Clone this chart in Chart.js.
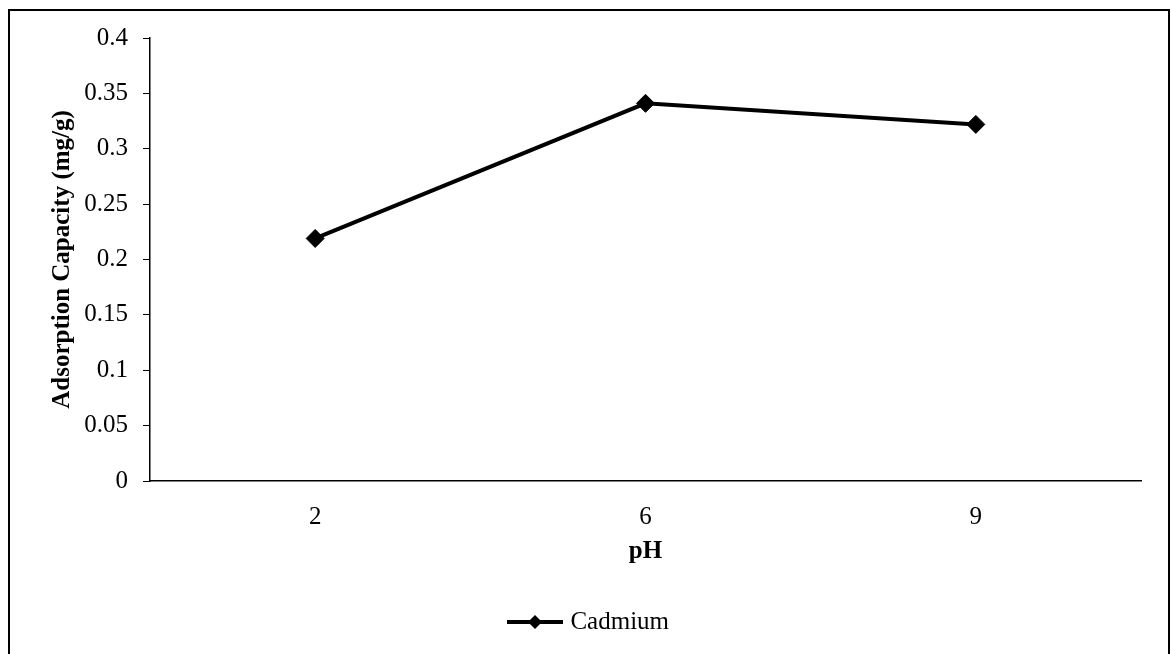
<!DOCTYPE html>
<html>
<head>
<meta charset="utf-8">
<script src="https://cdn.jsdelivr.net/npm/chart.js@4/dist/chart.umd.min.js"></script>
<style>
    html, body { margin: 0; padding: 0; background: #fff; }
    #wrap { width: 1171px; height: 654px; }
</style>
</head>
<body>
<div id="wrap"><canvas id="lineChart" width="1171" height="654"></canvas></div>
<script>
const phLabels = ["2", "6", "9"];
const cadmium = [0.219, 0.341, 0.322];
const seriesName = "Cadmium";
const yTitle = "Adsorption Capacity (mg/g)";
const xTitle = "pH";

const FONT = "'Liberation Serif', 'Times New Roman', serif";

// legend icon: line with a diamond in the middle
function legendIcon() {
    const c = document.createElement("canvas");
    c.width = 56;
    c.height = 18;
    const g = c.getContext("2d");
    g.strokeStyle = "#000";
    g.lineWidth = 4;
    g.beginPath();
    g.moveTo(0, 9);
    g.lineTo(56, 9);
    g.stroke();
    g.fillStyle = "#000";
    g.beginPath();
    g.moveTo(28, 2);
    g.lineTo(35, 9);
    g.lineTo(28, 16);
    g.lineTo(21, 9);
    g.closePath();
    g.fill();
    return c;
}

// outer frame around the whole figure
const framePlugin = {
    id: "frame",
    afterDraw(chart) {
        const ctx = chart.ctx;
        ctx.save();
        ctx.strokeStyle = "#000";
        ctx.lineWidth = 2;
        ctx.strokeRect(9, 10, 1160, 660);
        ctx.restore();
    }
};

const ctx = document.getElementById("lineChart");

new Chart(ctx, {
    type: "line",
    data: {
        labels: phLabels,
        datasets: [{
            label: seriesName,
            data: cadmium,
            borderColor: "#000",
            backgroundColor: "#000",
            borderWidth: 4,
            pointStyle: "rectRot",
            pointRadius: 9,
            pointBorderWidth: 1,
            pointBackgroundColor: "#000",
            pointBorderColor: "#000",
            tension: 0
        }]
    },
    options: {
        responsive: false,
        animation: false,
        layout: {
            padding: { left: 40, top: 38, right: 30, bottom: 9.5 }
        },
        scales: {
            x: {
                offset: true,
                grid: { display: false, drawTicks: false },
                border: { color: "#000", width: 1.5 },
                ticks: {
                    color: "#000",
                    padding: 21,
                    font: { family: FONT, size: 25 }
                },
                title: {
                    display: true,
                    text: xTitle,
                    color: "#000",
                    padding: { top: 0, bottom: 0 },
                    font: { family: FONT, size: 25, weight: "bold" }
                },
                afterFit(scale) { scale.height = 86; }
            },
            y: {
                min: 0,
                max: 0.4,
                ticks: {
                    stepSize: 0.05,
                    color: "#000",
                    padding: 15,
                    font: { family: FONT, size: 25 },
                    callback: v => String(Math.round(v * 100) / 100)
                },
                grid: {
                    display: true,
                    drawOnChartArea: false,
                    drawTicks: true,
                    tickLength: 7,
                    color: "#000"
                },
                border: { color: "#000", width: 1.5 },
                title: {
                    display: true,
                    text: yTitle,
                    color: "#000",
                    padding: { top: 8, bottom: 0 },
                    font: { family: FONT, size: 25, weight: "bold" }
                },
                afterFit(scale) { scale.width = 110; }
            }
        },
        plugins: {
            legend: {
                position: "bottom",
                labels: {
                    color: "#000",
                    usePointStyle: true,
                    pointStyleWidth: 46,
                    font: { family: FONT, size: 25 },
                    padding: 42.5,
                    generateLabels(chart) {
                        return [{
                            text: seriesName,
                            pointStyle: legendIcon(),
                            fillStyle: "#000",
                            strokeStyle: "#000",
                            lineWidth: 0,
                            datasetIndex: 0
                        }];
                    }
                }
            },
            tooltip: { enabled: false }
        }
    },
    plugins: [framePlugin]
});
</script>
</body>
</html>
